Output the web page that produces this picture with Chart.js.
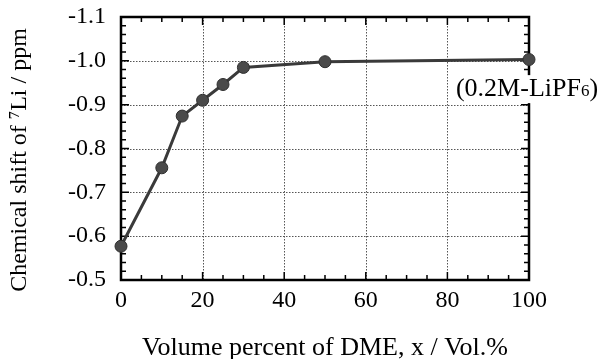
<!DOCTYPE html>
<html><head><meta charset="utf-8">
<script src="https://cdn.jsdelivr.net/npm/chart.js@4"></script>
<style>html,body{margin:0;padding:0;background:#fff}#wrap{width:600px;height:359px}</style>
</head><body><div id="wrap"><canvas id="c" width="600" height="359"></canvas></div>
<script>
const dmePercent = [0, 10, 15, 20, 25, 30, 50, 100];
const chemShift = [-0.577, -0.756, -0.874, -0.910, -0.946, -0.985, -0.998, -1.003];
const xTicks = [0, 20, 40, 60, 80, 100];
const yTicks = [-1.1, -1.0, -0.9, -0.8, -0.7, -0.6, -0.5];
const xMinorStep = 5;
const yMinorStep = 0.02;
const xTitle = 'Volume percent of DME, x / Vol.%';
const yTitle = 'Chemical shift of \u2077Li / ppm';
const noteText = ["(0.2M-LiPF", "6", ")"];
const noteAt = {x: 100, y: -0.94};

const SERIF = '"Liberation Serif", "DejaVu Serif", serif';

const framePlugin = {
  id: 'frame',
  beforeDatasetsDraw(chart) {
    const {ctx, chartArea: a, scales: {x, y}} = chart;
    ctx.save();
    ctx.strokeStyle = '#555';
    ctx.lineWidth = 1;
    ctx.setLineDash([1.5, 1.5]);
    xTicks.slice(1, -1).forEach(v => {
      const px = Math.round(x.getPixelForValue(v)) + 0.5;
      ctx.beginPath(); ctx.moveTo(px, a.top); ctx.lineTo(px, a.bottom); ctx.stroke();
    });
    yTicks.slice(1, -1).forEach(v => {
      const py = Math.round(y.getPixelForValue(v)) + 0.5;
      ctx.beginPath(); ctx.moveTo(a.left, py); ctx.lineTo(a.right, py); ctx.stroke();
    });
    ctx.setLineDash([]);
    ctx.strokeStyle = '#000';
    ctx.lineWidth = 1.5;
    for (let v = 0; v <= 100 + 1e-9; v += xMinorStep) {
      const major = Math.abs(v % 20) < 1e-6;
      const len = major ? 8 : 5;
      const px = x.getPixelForValue(v);
      ctx.beginPath();
      ctx.moveTo(px, a.bottom); ctx.lineTo(px, a.bottom - len);
      ctx.moveTo(px, a.top); ctx.lineTo(px, a.top + len);
      ctx.stroke();
    }
    for (let i = 0; i <= 30; i++) {
      const v = -1.1 + i * yMinorStep;
      const major = i % 5 === 0;
      const len = major ? 8 : 5;
      const py = y.getPixelForValue(v);
      ctx.beginPath();
      ctx.moveTo(a.left, py); ctx.lineTo(a.left + len, py);
      ctx.moveTo(a.right, py); ctx.lineTo(a.right - len, py);
      ctx.stroke();
    }
    ctx.lineWidth = 2.5;
    ctx.strokeRect(a.left, a.top, a.right - a.left, a.bottom - a.top);
    ctx.restore();
  },
  afterDatasetsDraw(chart) {
    const {ctx, scales: {x, y}} = chart;
    ctx.save();
    ctx.textBaseline = 'alphabetic';
    const big = '26px ' + SERIF, small = '17px ' + SERIF;
    ctx.font = big; const w0 = ctx.measureText(noteText[0]).width;
    ctx.font = small; const w1 = ctx.measureText(noteText[1]).width;
    ctx.font = big; const w2 = ctx.measureText(noteText[2]).width;
    const total = w0 + w1 + w2;
    let sx = x.getPixelForValue(noteAt.x) - total / 2 - 2;
    const by = y.getPixelForValue(noteAt.y) + 9;
    ctx.fillStyle = '#fff';
    ctx.fillRect(sx - 2, by - 21, total + 4, 28);
    ctx.fillStyle = '#000';
    ctx.textAlign = 'left';
    ctx.font = big; ctx.fillText(noteText[0], sx, by); sx += w0;
    ctx.font = small; ctx.fillText(noteText[1], sx, by); sx += w1;
    ctx.font = big; ctx.fillText(noteText[2], sx, by);
    ctx.font = '24px ' + SERIF;
    ctx.textAlign = 'center';
    ctx.textBaseline = 'middle';
    ctx.translate(20, 160);
    ctx.rotate(-Math.PI / 2);
    ctx.fillText(yTitle, 0, 0);
    ctx.restore();
  }
};

new Chart(document.getElementById('c'), {
  type: 'line',
  data: {
    datasets: [{
      data: dmePercent.map((v, i) => ({x: v, y: chemShift[i]})),
      borderColor: '#3a3a3a',
      borderWidth: 3,
      pointRadius: 6,
      pointBackgroundColor: '#4a4a4a',
      pointBorderColor: '#2e2e2e',
      pointBorderWidth: 1,
      tension: 0,
      clip: false
    }]
  },
  options: {
    responsive: false,
    animation: false,
    events: [],
    layout: {padding: {top: 17, right: 71, left: 0, bottom: 0}},
    plugins: {legend: {display: false}, tooltip: {enabled: false}},
    scales: {
      x: {
        type: 'linear', min: 0, max: 100,
        afterBuildTicks: s => { s.ticks = xTicks.map(v => ({value: v})); },
        afterFit: s => { s.height = 79; s.paddingLeft = 0; s.paddingRight = 0; },
        grid: {display: false, drawTicks: false},
        border: {display: false},
        ticks: {color: '#000', font: {family: SERIF, size: 24}, padding: 6, maxRotation: 0},
        title: {display: true, text: xTitle, color: '#000',
                font: {family: SERIF, size: 26, lineHeight: 1}, padding: {top: 0, bottom: -2}}
      },
      y: {
        type: 'linear', min: -1.1, max: -0.5, reverse: true,
        afterBuildTicks: s => { s.ticks = yTicks.map(v => ({value: v})); },
        afterFit: s => { s.width = 121; s.paddingTop = 0; s.paddingBottom = 0; },
        grid: {display: false, drawTicks: false},
        border: {display: false},
        ticks: {color: '#000', font: {family: SERIF, size: 24}, padding: 15,
                callback: v => Number(v).toFixed(1)},
        title: {display: false}
      }
    }
  },
  plugins: [framePlugin]
});
</script></body></html>
